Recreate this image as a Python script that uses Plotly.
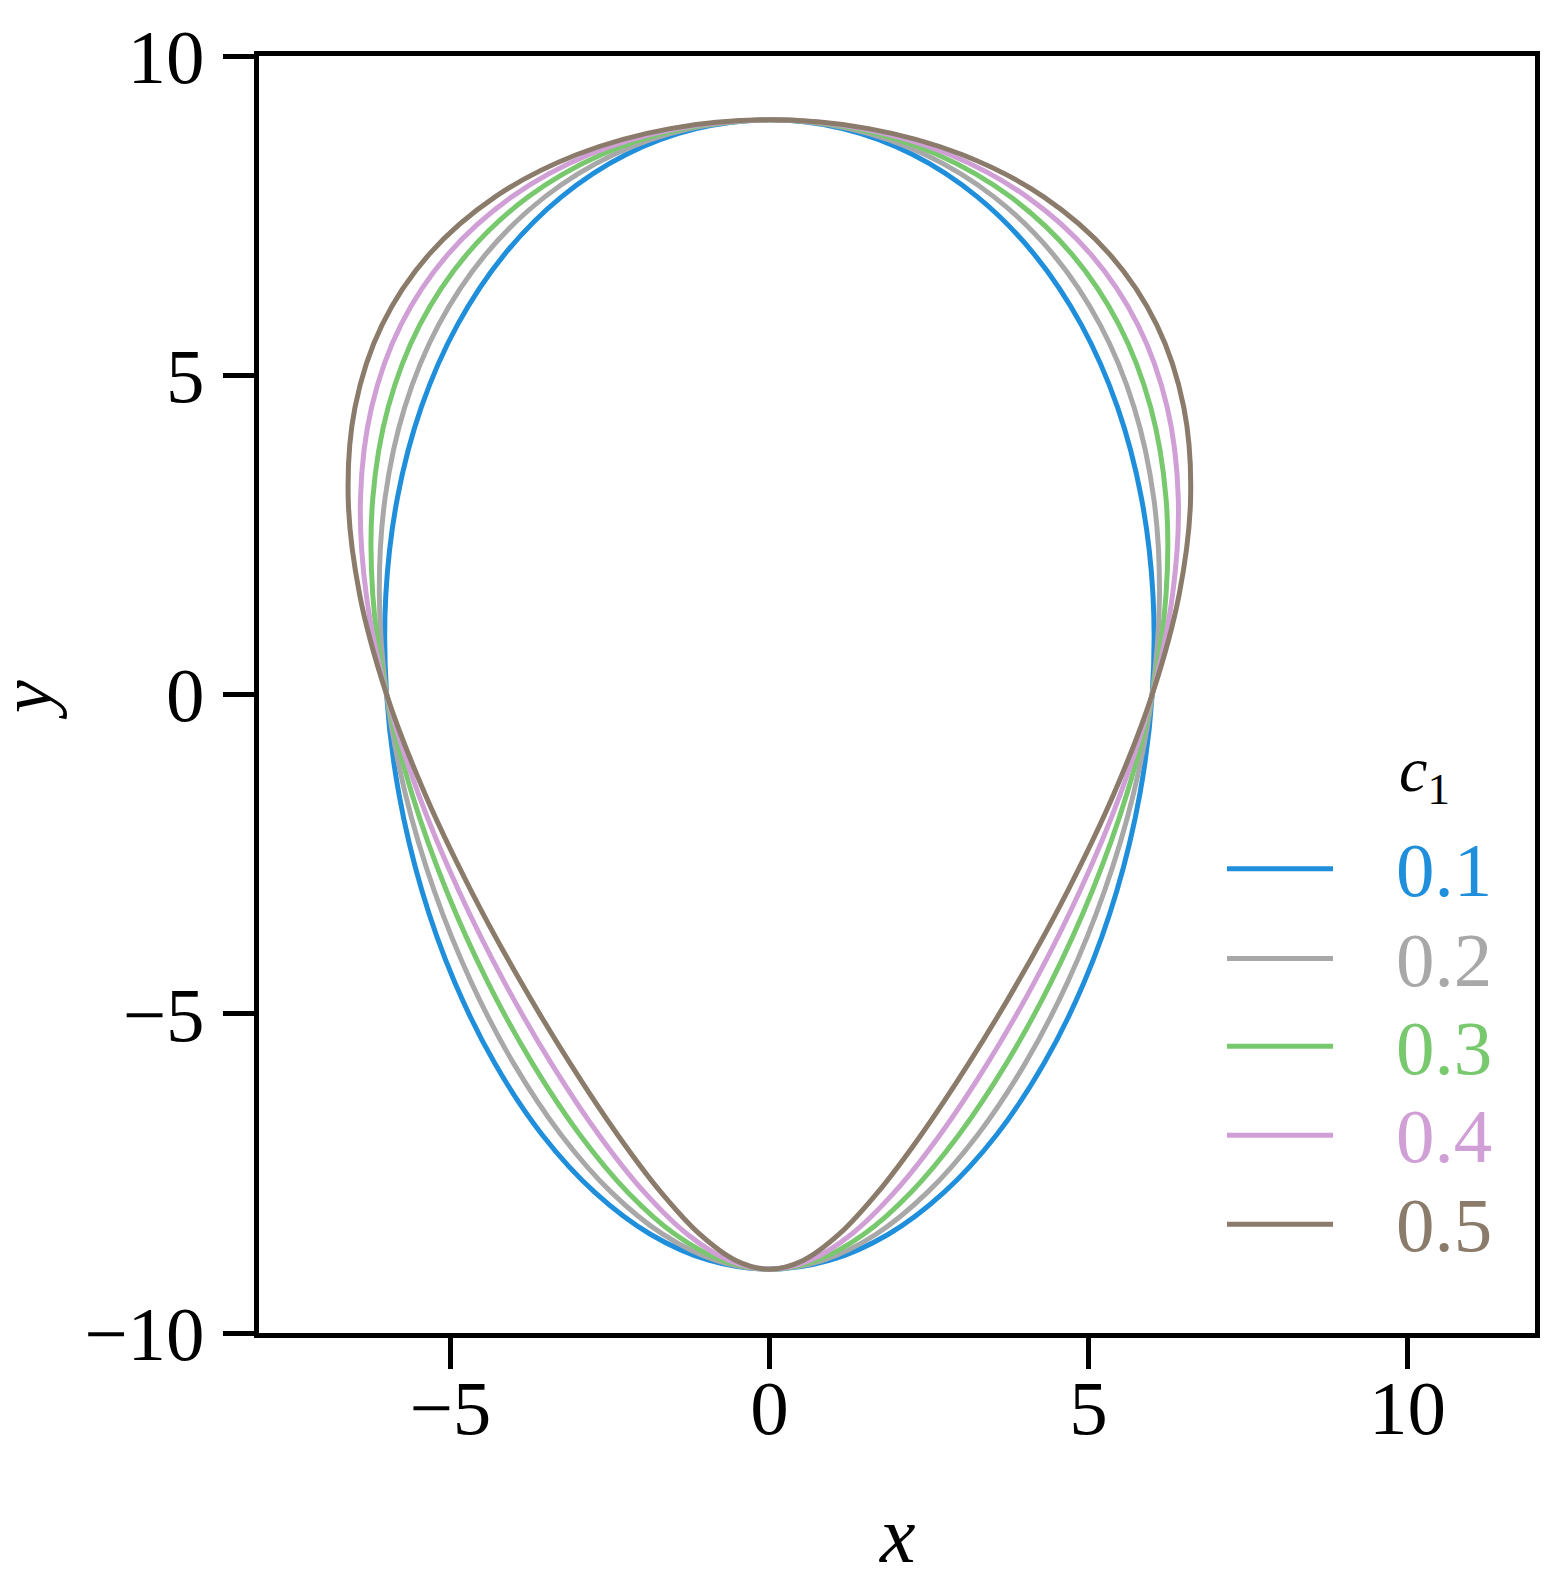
import plotly.graph_objects as go

# Read-off values: right half of each closed curve (left half is its mirror image)
y_vals = [-9.0, -8.863, -8.457, -7.794, -6.894, -5.785, -4.5, -3.078, -1.563, 0.0,
          1.563, 3.078, 4.5, 5.785, 6.894, 7.794, 8.457, 8.863, 9.0]
x_c01 = [0.0, 0.939, 1.859, 2.740, 3.562, 4.300, 4.936, 5.445, 5.806, 6.0,
         6.012, 5.831, 5.456, 4.892, 4.152, 3.260, 2.245, 1.145, 0.0]
x_c02 = [0.0, 0.837, 1.666, 2.480, 3.266, 4.005, 4.676, 5.252, 5.704, 6.0,
         6.114, 6.024, 5.716, 5.187, 4.448, 3.520, 2.438, 1.247, 0.0]
x_c03 = [0.0, 0.734, 1.474, 2.221, 2.971, 3.710, 4.417, 5.060, 5.601, 6.0,
         6.217, 6.216, 5.975, 5.482, 4.743, 3.779, 2.630, 1.350, 0.0]
x_c04 = [0.0, 0.632, 1.281, 1.961, 2.675, 3.414, 4.157, 4.867, 5.499, 6.0,
         6.319, 6.409, 6.235, 5.778, 5.039, 4.039, 2.823, 1.452, 0.0]
x_c05 = [0.0, 0.529, 1.088, 1.701, 2.380, 3.119, 3.897, 4.674, 5.396, 6.0,
         6.422, 6.602, 6.495, 6.073, 5.334, 4.299, 3.016, 1.555, 0.0]

labels = ["0.1", "0.2", "0.3", "0.4", "0.5"]
series = [x_c01, x_c02, x_c03, x_c04, x_c05]
colors = ["#1f8fdc", "#a8a8a8", "#78c86e", "#cf9fd6", "#8a7b6a"]

FONT = "Liberation Serif, Times New Roman, serif"
FS = 77

fig = go.Figure()
for lab, xs, col in zip(labels, series, colors):
    full_x = list(xs) + [-v for v in reversed(xs[:-1])]
    full_y = list(y_vals) + list(reversed(y_vals[:-1]))
    fig.add_trace(go.Scatter(x=full_x, y=full_y, mode="lines", name=lab,
                             line=dict(color=col, width=5, shape="spline", smoothing=1.0),
                             showlegend=False))

# Manual legend (long line samples, coloured labels)
leg_y = [0.3635, 0.2933, 0.2245, 0.1549, 0.0852]
for lab, col, yy in zip(labels, colors, leg_y):
    fig.add_shape(type="line", xref="paper", yref="paper", x0=0.7586, x1=0.8417,
                  y0=yy, y1=yy, line=dict(color=col, width=5))
    fig.add_annotation(xref="paper", yref="paper", x=0.8895, y=yy - 0.001, text=lab,
                       showarrow=False, xanchor="left", yanchor="middle",
                       font=dict(family=FONT, size=FS, color=col))
fig.add_annotation(xref="paper", yref="paper", x=0.8915, y=0.438,
                   text="<i>c</i><sub>1</sub>", showarrow=False,
                   xanchor="left", yanchor="middle",
                   font=dict(family=FONT, size=64, color="black"))

# Axis titles
fig.add_annotation(xref="paper", yref="paper", x=0.5004, y=-0.1585, text="<i>x</i>",
                   showarrow=False, xanchor="center", yanchor="middle",
                   font=dict(family=FONT, size=80, color="black"))
fig.add_annotation(xref="paper", yref="paper", x=-0.1826, y=0.4957, text="<i>y</i>",
                   showarrow=False, xanchor="center", yanchor="middle", textangle=-90,
                   font=dict(family=FONT, size=74, color="black"))

axis_common = dict(showgrid=False, zeroline=False, showline=True, linecolor="black",
                   linewidth=5, mirror=True, ticks="outside", ticklen=31, tickwidth=4.5,
                   tickcolor="black", automargin=False,
                   tickfont=dict(family=FONT, size=FS, color="black"))

fig.update_xaxes(range=[-8, 12], tickvals=[-5, 0, 5, 10], ticklabelstandoff=-27,
                 **axis_common)
fig.update_yaxes(range=[-10, 10], tickvals=[-10, -5, 0, 5, 10], ticklabelstandoff=3,
                 **axis_common)

# page body is offset by a few px: size the figure so the plot area lands where the reference's does
fig.update_layout(width=1547, height=1569, plot_bgcolor="white", paper_bgcolor="white",
                  margin=dict(l=251, r=20, t=48, b=244), showlegend=False)

fig.write_html("out.html")
